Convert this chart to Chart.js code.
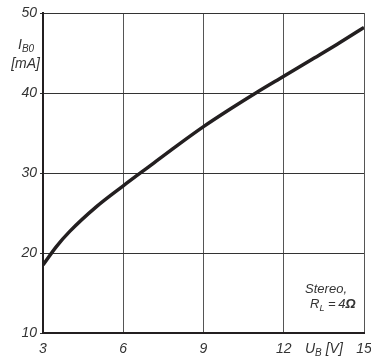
<!DOCTYPE html>
<html>
<head>
<meta charset="utf-8">
<script src="https://cdn.jsdelivr.net/npm/chart.js@4"></script>
<style>
  html, body { margin: 0; padding: 0; background: #fff; }
  #wrap { width: 371px; height: 358px; }
</style>
</head>
<body>
<div id="wrap"><canvas id="chart"></canvas></div>
<script>
// supply voltage U_B [V] and quiescent current I_B0 [mA]
const voltages = [3, 3.5, 4, 5, 6, 7, 8, 9, 10, 11, 12, 13, 14, 15];
const currents = [18.5, 20.8, 22.7, 25.8, 28.4, 30.9, 33.4, 35.8, 38.0, 40.1, 42.1, 44.1, 46.1, 48.2];
const xTicks = [3, 6, 9, 12, 15];
const yTicks = [10, 20, 30, 40, 50];

const FONT = '"Liberation Sans", Arial, sans-serif';
const INK = '#231f20';

// draws text with a subscript part
function subText(ctx, x, y, main, sub, size) {
    ctx.textAlign = 'left';
    ctx.font = 'italic ' + size + 'px ' + FONT;
    const w1 = ctx.measureText(main).width;
    ctx.fillText(main, x, y);
    ctx.font = 'italic ' + Math.round(size * 0.7) + 'px ' + FONT;
    const w2 = ctx.measureText(sub).width;
    ctx.fillText(sub, x + w1, y + size * 0.2);
    return x + w1 + w2;
}

const labelsPlugin = {
    id: 'labels',
    afterDraw(chart) {
        const ctx = chart.ctx;
        ctx.save();
        ctx.fillStyle = '#333';
        ctx.textBaseline = 'alphabetic';

        // y axis title
        subText(ctx, 18, 49, 'I', 'B0', 14);
        ctx.font = 'italic 14px ' + FONT;
        ctx.textAlign = 'right';
        ctx.fillText('[mA]', 40, 68);

        // x axis title
        const end = subText(ctx, 305, 353, 'U', 'B', 14);
        ctx.font = 'italic 14px ' + FONT;
        ctx.textAlign = 'left';
        ctx.fillText(' [V]', end, 353);

        // annotation
        ctx.font = 'italic 13px ' + FONT;
        ctx.textAlign = 'right';
        ctx.fillText('Stereo,', 347, 293);
        const rEnd = subText(ctx, 310, 308, 'R', 'L', 13);
        ctx.font = 'italic 13px ' + FONT;
        ctx.textAlign = 'left';
        ctx.fillText('\u2009=\u20094', rEnd + 1, 308);
        const w = ctx.measureText('\u2009=\u20094').width;
        ctx.font = 'italic bold 13px ' + FONT;
        ctx.fillText('\u03A9', rEnd + 1 + w, 308);
        ctx.restore();
    }
};

const ctx = document.getElementById('chart').getContext('2d');
new Chart(ctx, {
    type: 'line',
    data: {
        datasets: [{
            data: voltages.map((v, i) => ({ x: v, y: currents[i] })),
            borderColor: INK,
            borderWidth: 3.5,
            pointRadius: 0,
            cubicInterpolationMode: 'monotone',
            fill: false
        }]
    },
    options: {
        responsive: true,
        maintainAspectRatio: false,
        animation: false,
        layout: { padding: { top: 13, right: 7, left: 0, bottom: 0 } },
        plugins: { legend: { display: false }, tooltip: { enabled: false } },
        scales: {
            x: {
                type: 'linear',
                min: 3,
                max: 15,
                afterBuildTicks: s => { s.ticks = xTicks.map(v => ({ value: v })); },
                afterFit: s => { s.height = 25; s.paddingLeft = 0; s.paddingRight = 0; },
                grid: { color: '#555', lineWidth: 1, drawTicks: false },
                border: { color: INK, width: 2 },
                ticks: {
                    padding: 8,
                    color: '#333',
                    font: { family: FONT, size: 14, style: 'italic' },
                    maxRotation: 0
                }
            },
            y: {
                min: 10,
                max: 50,
                afterBuildTicks: s => { s.ticks = yTicks.map(v => ({ value: v })); },
                afterFit: s => { s.width = 43; s.paddingTop = 0; s.paddingBottom = 0; },
                grid: { color: '#333', lineWidth: 1, drawTicks: true, tickLength: 3 },
                border: { color: INK, width: 2 },
                ticks: {
                    padding: 3,
                    color: '#333',
                    font: { family: FONT, size: 14, style: 'italic' }
                }
            }
        }
    },
    plugins: [labelsPlugin]
});
</script>
</body>
</html>
